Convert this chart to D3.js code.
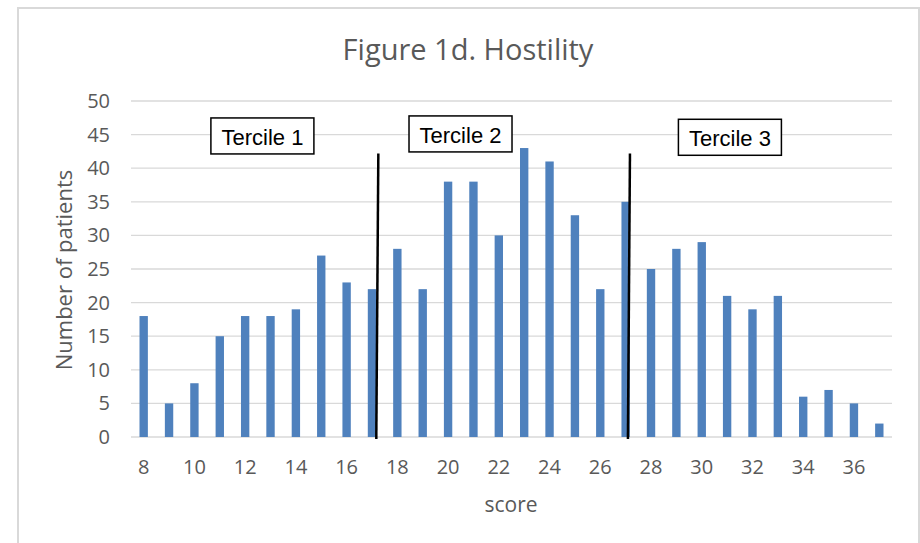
<!DOCTYPE html>
<html>
<head>
<meta charset="utf-8">
<script src="https://cdn.jsdelivr.net/npm/d3@7"></script>
<style>
  body { margin: 0; background: #fff; }
  svg { display: block; }
  .tick text { fill: #595959; font-family: "Open Sans", sans-serif; }
</style>
</head>
<body>
<div id="chart"></div>
<script>
// data
var scores = [8, 9, 10, 11, 12, 13, 14, 15, 16, 17, 18, 19, 20, 21, 22,
              23, 24, 25, 26, 27, 28, 29, 30, 31, 32, 33, 34, 35, 36, 37];
var patients = [18, 5, 8, 15, 18, 18, 19, 27, 23, 22, 28, 22, 38, 38, 30,
                43, 41, 33, 22, 35, 25, 28, 29, 21, 19, 21, 6, 7, 5, 2];
var xTickLabels = [8, 10, 12, 14, 16, 18, 20, 22, 24, 26, 28, 30, 32, 34, 36];
var yTickLabels = [0, 5, 10, 15, 20, 25, 30, 35, 40, 45, 50];

// tercile cut lines (score at top, score at bottom, top value)
var cutTop = [17.25, 27.17];
var cutBottom = [17.17, 27.09];
var cutHeight = 42.2;

// tercile labels (score, value)
var tercileNames = ["Tercile 1", "Tercile 2", "Tercile 3"];
var tercileScore = [12.68, 20.49, 31.11];
var tercileValue = [44.8, 45.1, 44.6];

var W = 920, H = 543;
var margin = {top: 101, right: 28, bottom: 106, left: 131};

var svg = d3.select("#chart").append("svg")
    .attr("width", W)
    .attr("height", H);

// outer chart border
svg.append("rect")
    .attr("x", 18).attr("y", 8)
    .attr("width", 901).attr("height", 600)
    .attr("fill", "none")
    .attr("stroke", "#d9d9d9")
    .attr("stroke-width", 2);

var x = d3.scaleBand()
    .domain(scores)
    .range([margin.left, W - margin.right])
    .paddingInner(0.67)
    .paddingOuter(0.335);

var y = d3.scaleLinear()
    .domain([0, 50])
    .range([H - margin.bottom, margin.top]);

// continuous score position, centred on the bands
var xs = d3.scaleLinear()
    .domain([scores[0], scores[scores.length - 1]])
    .range([x(scores[0]) + x.bandwidth() / 2, x(scores[scores.length - 1]) + x.bandwidth() / 2]);

// gridlines
svg.append("g")
  .selectAll("line")
  .data(yTickLabels)
  .join("line")
    .attr("x1", margin.left)
    .attr("x2", W - margin.right)
    .attr("y1", function(d) { return y(d); })
    .attr("y2", function(d) { return y(d); })
    .attr("stroke", "#d9d9d9")
    .attr("stroke-width", 1.3);

// y axis
var yAxis = svg.append("g")
    .attr("transform", "translate(" + (margin.left - 21) + ",0)")
    .call(d3.axisLeft(y).tickValues(yTickLabels).tickSize(0).tickPadding(0));
yAxis.select(".domain").remove();
yAxis.selectAll("text").style("font-size", "20px");

// bars
svg.append("g")
  .selectAll("rect")
  .data(scores)
  .join("rect")
    .attr("x", function(d) { return x(d); })
    .attr("width", x.bandwidth())
    .attr("y", function(d, i) { return y(patients[i]); })
    .attr("height", function(d, i) { return y(0) - y(patients[i]); })
    .attr("fill", "#4f81bd");

// x axis
var xAxis = svg.append("g")
    .attr("transform", "translate(0," + y(0) + ")")
    .call(d3.axisBottom(x).tickValues(xTickLabels).tickSize(0).tickPadding(23));
xAxis.select(".domain").remove();
xAxis.selectAll("text").style("font-size", "20px");

// tercile cut lines
svg.append("g")
  .selectAll("line")
  .data(cutTop)
  .join("line")
    .attr("x1", function(d) { return xs(d); })
    .attr("y1", y(cutHeight))
    .attr("x2", function(d, i) { return xs(cutBottom[i]); })
    .attr("y2", y(0) + 2)
    .attr("stroke", "#000")
    .attr("stroke-width", 2.5);

// tercile label boxes
var boxW = 103, boxH = 36;
var boxes = svg.append("g")
  .selectAll("g")
  .data(tercileNames)
  .join("g")
    .attr("transform", function(d, i) {
      return "translate(" + xs(tercileScore[i]) + "," + y(tercileValue[i]) + ")";
    });
boxes.append("rect")
    .attr("x", -boxW / 2).attr("y", -boxH / 2)
    .attr("width", boxW).attr("height", boxH)
    .attr("fill", "#fff")
    .attr("stroke", "#000")
    .attr("stroke-width", 1.5);
boxes.append("text")
    .attr("text-anchor", "middle")
    .attr("dy", "0.4em")
    .style("font-family", "'Liberation Sans', Arial, sans-serif")
    .style("font-size", "22px")
    .attr("fill", "#000")
    .text(function(d) { return d; });

// title
svg.append("text")
    .attr("x", 468)
    .attr("y", 60)
    .attr("text-anchor", "middle")
    .style("font-family", "'Open Sans', sans-serif")
    .style("font-size", "29px")
    .attr("fill", "#595959")
    .text("Figure 1d. Hostility");

// axis titles
svg.append("text")
    .attr("x", 511)
    .attr("y", 512)
    .attr("text-anchor", "middle")
    .style("font-family", "'Open Sans', sans-serif")
    .style("font-size", "21px")
    .attr("fill", "#595959")
    .text("score");

svg.append("text")
    .attr("transform", "translate(72,270) rotate(-90)")
    .attr("text-anchor", "middle")
    .style("font-family", "'Open Sans', sans-serif")
    .style("font-size", "22px")
    .attr("fill", "#595959")
    .text("Number of patients");
</script>
</body>
</html>
